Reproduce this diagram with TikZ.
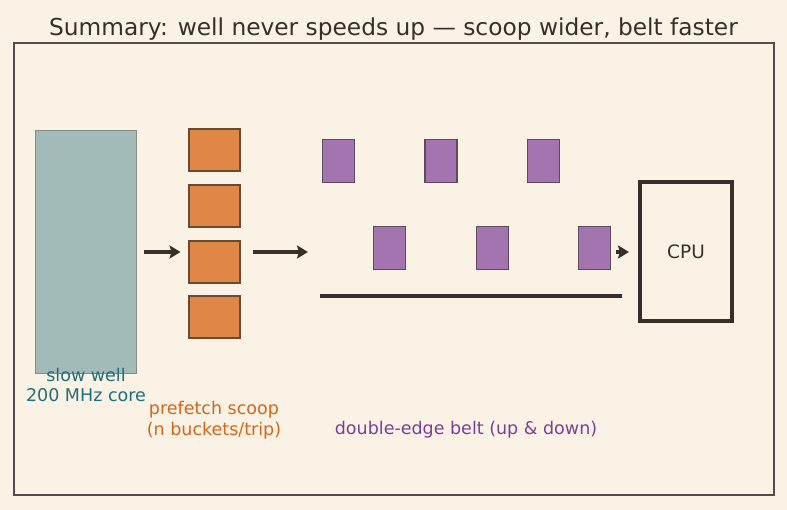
\documentclass[tikz,border=0pt]{standalone}
\usepackage{fontspec}
\setmainfont{DejaVu Sans}
\usetikzlibrary{arrows.meta}
\definecolor{paper}{HTML}{FAF2E4}
\definecolor{ink}{HTML}{3A2E28}
\definecolor{wellfill}{HTML}{A3BBB8}
\definecolor{welledge}{HTML}{8A8A80}
\definecolor{teal}{HTML}{1F6F7A}
\definecolor{scoopfill}{HTML}{E08646}
\definecolor{scoopedge}{HTML}{6B4A35}
\definecolor{scooptext}{HTML}{D4661A}
\definecolor{beltfill}{HTML}{A374B0}
\definecolor{beltedge}{HTML}{5E4A5A}
\definecolor{belttext}{HTML}{7A3F9A}
\tikzset{
    bucket/.style={draw=scoopedge, fill=scoopfill, line width=2pt, minimum width=51pt, minimum height=42pt, inner sep=0pt},
    parcel/.style={draw=beltedge, fill=beltfill, line width=1.8pt, minimum width=32pt, minimum height=43pt, inner sep=0pt},
    flow/.style={-{Stealth[length=11pt,width=13pt,inset=2pt]}, draw=ink, line width=3.6pt},
    lbl/.style={font=\fontsize{17.5}{20.5}\selectfont, inner sep=0pt, align=center}
}
\begin{document}
\begin{tikzpicture}[x=1pt, y=-1pt]
    % page and frame
    \fill[paper] (0,0) rectangle (787,510);
    \useasboundingbox (0,0) rectangle (787,510);
    \draw[ink!85, line width=1.6pt] (14,43) rectangle (774,495);
    \node[ink, font=\fontsize{23.3}{27}\selectfont] (title) at (393.5,29) {Summary: well never speeds up — scoop wider, belt faster};

    % slow well (left)
    \node[draw=welledge, fill=wellfill, line width=1.6pt, minimum width=101pt, minimum height=243pt, inner sep=0pt] (well) at (86,252) {};
    \node[lbl, teal] (welllbl) at (86,385) {slow well\\200 MHz core};

    % prefetch scoop
    \foreach \i/\y in {1/150.5, 2/206, 3/262, 4/317.5} {
        \node[bucket] (s\i) at (214,\y) {};
    }
    \node[lbl, scooptext] (scooplbl) at (214,420) {prefetch scoop\\(n buckets/trip)};

    % belt: parcels ride on both edges
    \foreach \i/\x in {1/338.5, 2/441, 3/543.5} {
        \node[parcel] (up\i) at (\x,161) {};
    }
    \foreach \i/\x in {1/389.5, 2/492.5, 3/594.5} {
        \node[parcel] (dn\i) at (\x,248) {};
    }
    \coordinate (beltL) at (320,296);
    \coordinate (beltR) at (622,296);
    \draw[ink, line width=3.8pt] (beltL) -- (beltR);
    \node[lbl, belttext] (beltlbl) at (466,430) {double-edge belt (up \& down)};

    % CPU
    \node[draw=ink, line width=4pt, minimum width=92pt, minimum height=139pt, inner sep=0pt, font=\fontsize{18.5}{22}\selectfont, text=ink] (cpu) at (686,252) {CPU};

    % arrows
    \coordinate (beltin) at (beltL |- well.east);
    \draw[flow, shorten <=7pt, shorten >=7pt] (well.east) -- (s3.west |- well.east);
    \draw[flow, shorten <=12pt, shorten >=12pt] (s3.east |- well.east) -- (beltin);
    \draw[flow, shorten <=5pt, shorten >=9pt] (dn3.east |- cpu.west) -- (cpu.west);
\end{tikzpicture}
\end{document}
